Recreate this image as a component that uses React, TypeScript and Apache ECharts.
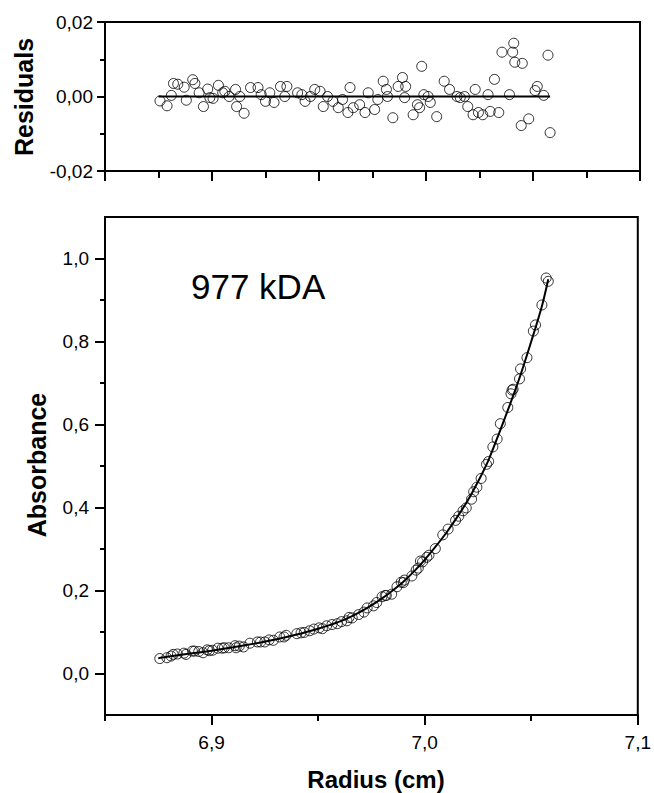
import React, { useEffect, useRef } from 'react';
import * as echarts from 'echarts';

// Radius (cm) of each measured point
const radius = [
  6.8757, 6.879, 6.881, 6.882, 6.884, 6.887, 6.888, 6.891, 6.892, 6.894,
  6.896, 6.898, 6.899, 6.9005, 6.903, 6.905, 6.906, 6.908, 6.911, 6.9115,
  6.913, 6.915, 6.918, 6.9215, 6.923, 6.925, 6.927, 6.929, 6.932, 6.934,
  6.935, 6.94, 6.942, 6.9435, 6.946, 6.948, 6.9505, 6.952, 6.954, 6.9565,
  6.959, 6.961, 6.9635, 6.9645, 6.966, 6.969, 6.9715, 6.973, 6.976, 6.9775,
  6.98, 6.9815, 6.982, 6.9845, 6.987, 6.989, 6.99, 6.9905, 6.994, 6.996,
  6.997, 6.998, 6.999, 7.001, 7.002, 7.005, 7.0085, 7.011, 7.0145, 7.016,
  7.018, 7.0195, 7.022, 7.023, 7.0245, 7.0265, 7.029, 7.03, 7.032, 7.034,
  7.0355, 7.039, 7.0405, 7.041, 7.0415, 7.0445, 7.045, 7.048, 7.051, 7.052,
  7.055, 7.057, 7.058,
];

// Residuals of the fit
const residuals = [
  -0.0012, -0.0025, 0.0003, 0.0035, 0.0033, 0.0025, -0.001, 0.0045, 0.0035, 0.001,
  -0.0027, 0.002, -0.0003, -0.0005, 0.003, 0.001, 0.0014, 0.0, 0.0019, -0.0027,
  0.0, -0.0045, 0.0024, 0.0024, 0.0005, -0.0013, 0.001, -0.0016, 0.0027, 0.0,
  0.0027, 0.001, 0.0005, -0.0013, 0.0, 0.0019, 0.0014, -0.0027, 0.0, -0.0013,
  -0.003, -0.0008, -0.0043, 0.0024, -0.003, -0.0022, -0.0043, 0.001, -0.0035, -0.0008,
  0.0041, 0.0019, 0.0, -0.0057, 0.0027, 0.0051, -0.0003, 0.0027, -0.0049, -0.0022,
  -0.003, 0.0081, 0.0005, 0.0, -0.0016, -0.0054, 0.0041, 0.0019, 0.0, -0.0003,
  0.0, -0.0027, -0.0049, 0.0019, -0.0043, -0.0049, 0.0005, -0.004, 0.0046, -0.0043,
  0.0119, 0.0005, 0.0119, 0.0143, 0.0092, -0.0078, 0.0089, -0.006, 0.0016, 0.0027,
  0.0003, 0.0111, -0.0097,
];

// Measured absorbance
const absorbance = [
  0.036, 0.038, 0.042, 0.046, 0.047, 0.049, 0.046, 0.054, 0.054, 0.053,
  0.05, 0.057, 0.055, 0.056, 0.061, 0.061, 0.062, 0.062, 0.067, 0.062,
  0.066, 0.064, 0.073, 0.076, 0.076, 0.076, 0.081, 0.08, 0.088, 0.088,
  0.092, 0.096, 0.098, 0.099, 0.103, 0.107, 0.11, 0.108, 0.115, 0.118,
  0.12, 0.125, 0.127, 0.135, 0.134, 0.142, 0.148, 0.158, 0.163, 0.171,
  0.185, 0.188, 0.188, 0.191, 0.209, 0.22, 0.219, 0.225, 0.235, 0.249,
  0.254, 0.271, 0.269, 0.28, 0.285, 0.301, 0.334, 0.348, 0.369, 0.379,
  0.392, 0.399, 0.42, 0.438, 0.449, 0.47, 0.504, 0.511, 0.546, 0.565,
  0.602, 0.641, 0.674, 0.683, 0.685, 0.71, 0.734, 0.761, 0.825, 0.84,
  0.888, 0.953, 0.945,
];

// Fitted curve
const fitRadius = [
  6.875, 6.88, 6.89, 6.9, 6.91, 6.92, 6.93, 6.94, 6.95, 6.955, 6.96, 6.965, 6.97,
  6.975, 6.98, 6.985, 6.99, 6.995, 7.0, 7.005, 7.01, 7.015, 7.02, 7.025, 7.03,
  7.035, 7.04, 7.045, 7.05, 7.055, 7.058,
];
const fitAbsorbance = [
  0.037, 0.041, 0.048, 0.055, 0.063, 0.072, 0.082, 0.094, 0.108, 0.116, 0.125, 0.136, 0.149,
  0.164, 0.181, 0.2, 0.221, 0.246, 0.274, 0.305, 0.338, 0.375, 0.415, 0.462, 0.515,
  0.58, 0.648, 0.72, 0.8, 0.885, 0.95,
];

// Zero line of the residual panel
const zeroLineRadius = [6.875, 7.058];
const zeroLineValue = [0, 0];

// Ticks
const topXMajor = [6.85, 6.9, 6.95, 7.0, 7.05, 7.1];
const topXMinor = [6.875, 6.925, 6.975, 7.025, 7.075];
const residualMajor = [-0.02, 0, 0.02];
const residualMinor = [-0.01, 0.01];
const radiusMajor = [6.9, 7.0, 7.1];
const radiusMinor = [6.85, 6.95, 7.05];
const absMajor = [0, 0.2, 0.4, 0.6, 0.8, 1.0];
const absMinor = [0.1, 0.3, 0.5, 0.7, 0.9];

const FONT = '"Liberation Sans", Arial, Helvetica, sans-serif';
const BLACK = '#000';

export default function App() {
  const ref = useRef<HTMLDivElement>(null);

  useEffect(() => {
    if (!ref.current) return;
    const chart = echarts.init(ref.current, undefined, { renderer: 'svg' });

    const tickAxis = (
      gridIndex: number,
      position: string,
      min: number,
      max: number,
      ticks: number[],
      len: number,
      labels: boolean,
      fmt: (v: number) => string,
      line: boolean,
      margin: number
    ) => ({
      type: 'value',
      gridIndex,
      position,
      offset: 0,
      min,
      max,
      axisLine: { show: line, onZero: false, lineStyle: { color: BLACK, width: 2 } },
      axisTick: {
        show: true,
        inside: false,
        length: len,
        customValues: ticks,
        lineStyle: { color: BLACK, width: 2 },
      },
      axisLabel: {
        show: labels,
        customValues: ticks,
        formatter: fmt,
        color: BLACK,
        fontSize: 19,
        fontFamily: FONT,
        margin,
      },
      splitLine: { show: false },
      minorTick: { show: false },
    });

    const f1 = (v: number) => v.toFixed(1).replace('.', ',');
    const f2 = (v: number) => v.toFixed(2).replace('.', ',');

    const symbolStyle = { color: 'rgba(255,255,255,0)', borderColor: BLACK, borderWidth: 1 };

    chart.setOption({
      animation: false,
      backgroundColor: '#fff',
      grid: [
        { left: 105, right: 14, top: 22, height: 149, show: true, borderColor: BLACK, borderWidth: 2, backgroundColor: 'transparent' },
        { left: 105, right: 14, top: 217, height: 498, show: true, borderColor: BLACK, borderWidth: 2, backgroundColor: 'transparent' },
      ],
      xAxis: [
        tickAxis(0, 'bottom', 6.85, 7.1, topXMajor, 10, false, f1, true, 10),
        tickAxis(0, 'bottom', 6.85, 7.1, topXMinor, 7, false, f1, false, 10),
        tickAxis(1, 'bottom', 6.85, 7.1, radiusMajor, 10, true, f1, true, 18),
        tickAxis(1, 'bottom', 6.85, 7.1, radiusMinor, 6, false, f1, false, 18),
      ],
      yAxis: [
        tickAxis(0, 'left', -0.02, 0.02, residualMajor, 8, true, f2, true, 12),
        tickAxis(0, 'left', -0.02, 0.02, residualMinor, 5, false, f2, false, 12),
        tickAxis(1, 'left', -0.1, 1.1, absMajor, 10, true, f1, true, 16),
        tickAxis(1, 'left', -0.1, 1.1, absMinor, 5, false, f1, false, 16),
      ],
      graphic: [
        {
          type: 'text',
          x: 24,
          y: 97,
          rotation: Math.PI / 2,
          style: {
            text: 'Residuals',
            font: `bold 25px ${FONT}`,
            fill: BLACK,
            textAlign: 'center',
            textVerticalAlign: 'middle',
          },
        },
        {
          type: 'text',
          x: 37,
          y: 465,
          rotation: Math.PI / 2,
          style: {
            text: 'Absorbance',
            font: `bold 25px ${FONT}`,
            fill: BLACK,
            textAlign: 'center',
            textVerticalAlign: 'middle',
          },
        },
        {
          type: 'text',
          x: 376,
          y: 779,
          style: {
            text: 'Radius (cm)',
            font: `bold 24px ${FONT}`,
            fill: BLACK,
            textAlign: 'center',
            textVerticalAlign: 'middle',
          },
        },
        {
          type: 'text',
          x: 191,
          y: 286,
          style: {
            text: '977 kDA',
            font: `35px ${FONT}`,
            fill: BLACK,
            textAlign: 'left',
            textVerticalAlign: 'middle',
          },
        },
      ],
      series: [
        {
          type: 'scatter',
          xAxisIndex: 0,
          yAxisIndex: 0,
          symbol: 'circle',
          symbolSize: 10,
          itemStyle: symbolStyle,
          data: radius.map((r, i) => [r, residuals[i]]),
          z: 2,
        },
        {
          type: 'line',
          xAxisIndex: 0,
          yAxisIndex: 0,
          showSymbol: false,
          symbol: 'none',
          lineStyle: { color: BLACK, width: 2 },
          data: zeroLineRadius.map((r, i) => [r, zeroLineValue[i]]),
          z: 3,
        },
        {
          type: 'scatter',
          xAxisIndex: 2,
          yAxisIndex: 2,
          symbol: 'circle',
          symbolSize: 10,
          itemStyle: symbolStyle,
          data: radius.map((r, i) => [r, absorbance[i]]),
          z: 2,
        },
        {
          type: 'line',
          xAxisIndex: 2,
          yAxisIndex: 2,
          showSymbol: false,
          symbol: 'none',
          smooth: 0.3,
          lineStyle: { color: BLACK, width: 2 },
          data: fitRadius.map((r, i) => [r, fitAbsorbance[i]]),
          z: 3,
        },
      ],
    });

    return () => chart.dispose();
  }, []);

  return (
    <div
      ref={ref}
      style={{ position: 'fixed', left: 0, top: 0, width: 654, height: 793, background: '#fff' }}
    />
  );
}
